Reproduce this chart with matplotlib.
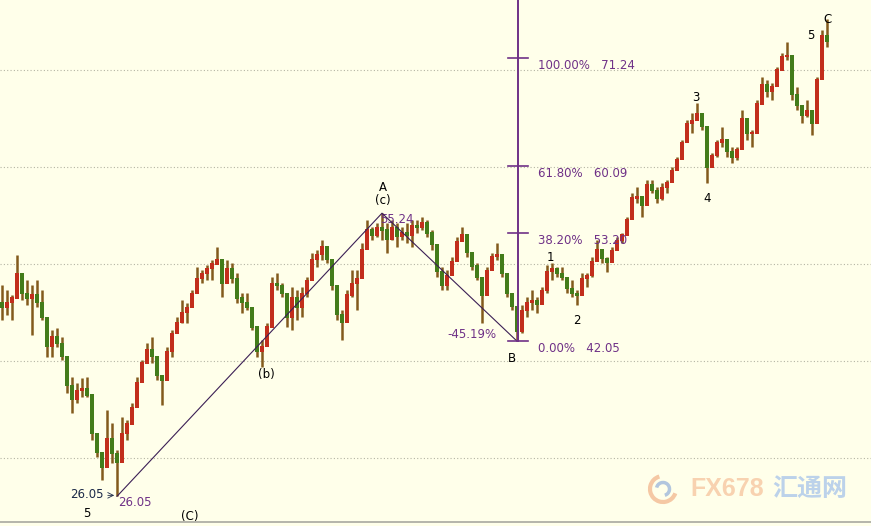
import numpy as np
import matplotlib
matplotlib.use("Agg")
import matplotlib.pyplot as plt
from matplotlib.patches import Arc

# bar data (one value per bar, left to right)
hi = [47.84, 47.32, 46.81, 50.93, 48.87, 48.35, 47.84, 48.35, 47.32, 43.51,
      43.20, 43.41, 42.48, 40.11, 38.35, 37.74, 38.25, 38.35, 34.23, 32.58,
      30.11, 34.95, 33.61, 30.83, 34.23, 33.92, 35.67, 38.35, 40.11, 41.86,
      42.48, 40.11, 38.56, 41.45, 43.20, 44.54, 46.29, 45.98, 47.32, 49.69,
      49.39, 49.90, 50.42, 51.76, 49.08, 50.42, 50.11, 49.08, 47.01, 47.01,
      45.26, 42.48, 42.17, 43.92, 48.66, 49.08, 48.04, 46.29, 47.63, 47.32,
      47.63, 48.66, 51.14, 51.45, 52.48, 51.45, 50.42, 45.98, 45.26, 47.32,
      49.39, 49.39, 52.17, 54.54, 53.82, 54.23, 55.24, 54.23, 54.54, 54.23,
      53.82, 54.23, 54.54, 54.54, 54.85, 54.54, 53.51, 51.45, 49.69, 49.39,
      50.73, 52.79, 53.82, 52.79, 51.14, 50.11, 47.63, 49.69, 51.14, 52.17,
      50.42, 48.35, 46.60, 45.26, 45.78, 46.60, 47.32, 46.60, 47.63, 49.90,
      50.11, 49.69, 49.69, 48.35, 48.35, 47.32, 49.08, 49.08, 50.73, 52.48,
      51.45, 50.73, 51.76, 52.79, 53.20, 54.85, 57.32, 57.94, 56.60, 58.66,
      58.66, 57.94, 58.35, 58.66, 60.00, 61.03, 62.79, 64.85, 65.57, 66.60,
      65.57, 62.79, 61.45, 62.79, 64.13, 62.79, 62.07, 62.07, 65.88, 64.85,
      63.82, 66.91, 69.28, 68.97, 68.66, 70.31, 71.76, 72.89, 70.31, 68.25,
      66.19, 66.91, 65.57, 69.28, 74.13, 75.26]
lo = [44.23, 44.75, 44.23, 48.35, 46.29, 45.78, 42.69, 45.57, 44.23, 40.42,
      40.42, 41.45, 40.11, 36.71, 34.64, 35.67, 36.29, 36.29, 31.86, 30.11,
      27.74, 30.83, 29.49, 26.05, 30.83, 31.86, 33.61, 36.29, 38.04, 39.80,
      39.80, 38.04, 35.47, 39.39, 40.42, 43.20, 43.92, 43.92, 45.57, 47.63,
      48.04, 48.35, 48.35, 50.11, 46.60, 48.04, 48.04, 45.98, 44.95, 45.26,
      43.20, 40.42, 39.39, 41.86, 46.29, 47.32, 46.60, 43.51, 43.20, 44.23,
      44.54, 46.60, 49.08, 49.69, 50.42, 50.11, 47.32, 44.23, 42.17, 45.26,
      46.60, 45.26, 50.11, 51.76, 52.48, 52.79, 52.48, 51.14, 52.48, 51.76,
      52.48, 52.17, 51.76, 53.20, 53.51, 52.79, 51.45, 48.66, 47.32, 47.32,
      49.08, 50.73, 52.48, 50.73, 49.39, 48.35, 43.92, 48.04, 49.69, 50.42,
      48.66, 46.60, 45.26, 42.05, 42.89, 44.54, 45.26, 44.95, 45.98, 47.01,
      48.35, 48.66, 48.35, 47.01, 46.60, 45.78, 47.32, 47.63, 48.66, 50.42,
      50.11, 49.18, 50.42, 51.45, 52.17, 53.51, 55.06, 56.29, 54.85, 57.32,
      57.32, 56.29, 56.60, 57.32, 58.66, 60.00, 61.45, 63.10, 63.51, 64.85,
      63.82, 58.35, 60.21, 61.03, 62.07, 61.03, 60.42, 60.73, 63.82, 62.79,
      62.07, 64.85, 67.22, 67.22, 66.91, 68.66, 70.00, 71.03, 66.91, 65.88,
      64.54, 65.16, 63.30, 66.91, 72.37, 72.37]
cl = [45.5, 46.0, 46.5, 49.0, 47.0, 46.5, 46.8, 46.0, 44.5, 41.5,
      42.5, 41.8, 40.5, 37.5, 36.0, 37.0, 37.2, 36.5, 32.5, 30.6,
      29.0, 32.0, 30.5, 29.5, 32.5, 33.5, 35.2, 37.8, 39.8, 41.2,
      40.5, 38.5, 38.0, 41.0, 42.8, 44.0, 45.0, 45.5, 47.0, 48.5,
      49.0, 49.5, 50.0, 50.5, 48.0, 49.5, 48.5, 46.5, 46.0, 45.5,
      43.5, 41.0, 41.5, 43.5, 48.0, 47.8, 47.0, 44.5, 46.5, 45.5,
      47.0, 48.3, 50.5, 51.0, 51.8, 50.5, 47.8, 44.8, 44.0, 46.8,
      48.0, 48.5, 51.5, 53.5, 53.0, 53.8, 53.5, 52.5, 53.8, 52.8,
      53.2, 53.0, 54.0, 53.8, 54.3, 53.2, 52.0, 49.2, 47.8, 48.8,
      50.3, 52.3, 53.0, 51.2, 49.8, 48.6, 46.8, 49.3, 50.8, 51.0,
      49.0, 47.0, 45.6, 43.0, 45.2, 46.0, 46.2, 45.8, 47.3, 49.2,
      49.5, 49.0, 48.6, 47.5, 47.0, 46.8, 48.5, 48.8, 50.3, 51.5,
      50.6, 50.2, 51.4, 52.4, 53.0, 54.6, 56.8, 57.0, 56.0, 58.2,
      57.6, 56.8, 57.9, 58.4, 59.6, 60.8, 62.5, 64.5, 64.8, 65.5,
      64.2, 60.0, 61.2, 62.5, 62.8, 61.6, 61.0, 61.8, 65.0, 63.5,
      63.5, 66.5, 68.5, 67.8, 68.3, 70.0, 71.4, 71.5, 67.5, 66.3,
      65.3, 65.8, 64.5, 69.0, 73.5, 73.0]
first_open = 46.0

# wave points and fibonacci
i_low, p_low = 23, 26.05
i_a, p_a = 76, 55.24
i_b, p_b = 103, 42.05
fib_top = 71.24
fib_levels = [0.0, 38.2, 61.8, 100.0]
waves = [("1", 110, "hi"), ("2", 115, "lo"), ("3", 139, "hi"), ("4", 141, "lo")]

bg = "#FFFFEA"
purple = "#6f3187"

fig = plt.figure(figsize=(8.71, 5.26), dpi=100, facecolor=bg)
ax = fig.add_axes([0, 0, 1, 1], facecolor=bg)
ax.set_xlim(-0.4, 173.8)
ax.set_ylim(22.99, 77.22)
ax.axis("off")

for g in [30, 40, 50, 60, 70]:
    ax.axhline(g, color="#b4b4a4", lw=0.8, ls=(0, (1, 2)), zorder=0)
ax.axhline(23.41, color="#a8a8a0", lw=1.2, zorder=0)

x = np.arange(len(cl))
cl = np.array(cl)
op = np.concatenate([[first_open], cl[:-1]])
up = cl >= op
cols = np.where(up, "#c22e1c", "#437c1a")
ax.vlines(x, lo, hi, colors="#835a1c", lw=1.8, zorder=2)
ax.bar(x, np.abs(cl - op) + 0.12, bottom=np.minimum(cl, op) - 0.06,
       width=0.75, color=cols, zorder=3, linewidth=0)

# trend lines
ax.plot([i_low, i_a, i_b], [p_low, p_a, p_b], color="#3b1f55", lw=0.8, zorder=4)

# fibonacci ruler
fx = i_b + 0.2
ax.plot([fx, fx], [p_b, 77.22], color=purple, lw=1.4, zorder=5)
for lv in fib_levels:
    val = p_b + (fib_top - p_b) * lv / 100
    ax.plot([fx - 2, fx + 2], [val, val], color=purple, lw=1.2, zorder=5)
    ax.text(fx + 4, val - 0.8, f"{lv:.2f}%   {val:.2f}", color=purple,
            fontsize=8.5, va="center", ha="left")

retr = -(p_a - p_b) / (p_a - p_low) * 100
ax.text(i_b - 4, p_b + 0.7, f"{retr:.2f}%", color=purple, fontsize=8.5,
        va="center", ha="right")
ax.text(i_b - 1, p_b - 1.75, "B", fontsize=8.5, ha="center", va="center")

ax.text(i_a + 0.2, p_a + 2.7, "A", fontsize=8.5, ha="center", va="center")
ax.text(i_a + 0.2, p_a + 1.3, "(c)", fontsize=8.5, ha="center", va="center")
ax.text(i_a - 0.3, p_a - 0.7, f"{p_a:.2f}", color=purple, fontsize=8.5,
        ha="left", va="center")

for lab, i, side in waves:
    if side == "hi":
        ax.text(i - 0.3, hi[i] + 0.6, lab, fontsize=8.5, ha="center", va="center")
    else:
        ax.text(i, lo[i] - 1.6, lab, fontsize=8.5, ha="center", va="center")
ax.text(161.8, 73.6, "5", fontsize=8.5, ha="center", va="center")
ax.text(164.3, hi[-1], "C", fontsize=8.5, ha="left", va="center")
ax.text(51.2, lo[52] - 0.8, "(b)", fontsize=8.5, ha="left", va="center")

ax.text(20.3, p_low + 0.15, f"{p_low:.2f}", color="#1c2a48", fontsize=8.5,
        ha="right", va="center")
ax.annotate("", xy=(i_low, p_low + 0.1), xytext=(20.6, p_low + 0.1),
            arrowprops=dict(arrowstyle="->", lw=0.6, color="#1c2a48"))
ax.text(i_low + 0.2, p_low - 0.6, f"{p_low:.2f}", color=purple, fontsize=8.5,
        ha="left", va="center")
ax.text(17, 24.3, "5", fontsize=8.5, ha="center", va="center")
ax.text(37.6, 24.0, "(C)", fontsize=8.5, ha="center", va="center")

# watermark
fig.patches.append(Arc((663 / 871, 1 - 489 / 526), 26 / 871, 26 / 526,
                       theta1=100, theta2=330, color="#f5c8a4", lw=3,
                       transform=fig.transFigure))
fig.patches.append(Arc((663 / 871, 1 - 489 / 526), 13 / 871, 13 / 526,
                       theta1=280, theta2=520, color="#b2c6de", lw=2.5,
                       transform=fig.transFigure))
fig.text(690 / 871, 1 - 489 / 526, "FX678", color="#f8d2b0", fontsize=18,
         fontweight="bold", family="Liberation Sans", va="center", ha="left")
fig.text(772 / 871, 1 - 489 / 526, "汇通网", color="#bcd2ea", fontsize=18,
         fontweight="bold", family=["Noto Sans CJK SC", "DejaVu Sans"],
         va="center", ha="left")

fig.savefig("out.png", dpi=100, facecolor=bg)
